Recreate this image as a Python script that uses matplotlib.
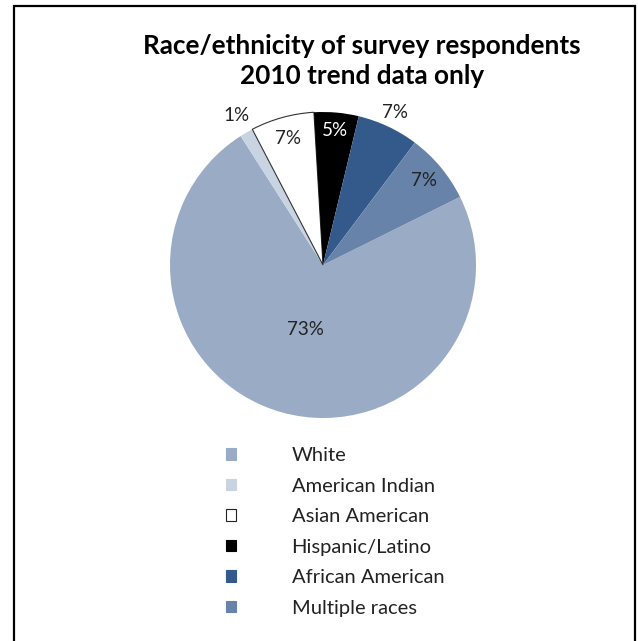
import numpy as np
import matplotlib
matplotlib.use('Agg')
import matplotlib.pyplot as plt
from matplotlib.patches import Rectangle

plt.rcParams['font.family'] = ['Lato', 'DejaVu Sans']

# data (share of respondents, %), legend order
groups = ['White', 'American Indian', 'Asian American', 'Hispanic/Latino',
          'African American', 'Multiple races']
shares = [73.3, 1.4, 6.7, 4.7, 6.5, 7.4]
pct_labels = ['73%', '1%', '7%', '5%', '7%', '7%']

colors = ['#9aabc5', '#c9d4e3', '#ffffff', '#000000', '#345a8c', '#6883aa']
label_colors = ['#222222', '#222222', '#222222', '#ffffff', '#222222', '#222222']
# radial position of each percentage label (fraction of the radius)
label_r = [0.44, 1.13, 0.86, 0.88, 1.10, 0.86]

W, H = 638, 641
fig = plt.figure(figsize=(W / 100, H / 100), dpi=100)

# chart frame
fig.patches.append(Rectangle((14 / W, -0.05), (635 - 14) / W, 1.05 - 6 / H,
                             transform=fig.transFigure, fill=False,
                             edgecolor='black', linewidth=1.6))

fig.text(362 / W, 1 - 61 / H, 'Race/ethnicity of survey respondents\n2010 trend data only',
         ha='center', va='center', fontsize=18.8, fontweight='bold',
         linespacing=1.35, color='black')

cx, cy, r = 323, 265, 153
ax = fig.add_axes([(cx - r) / W, 1 - (cy + r) / H, 2 * r / W, 2 * r / H])

# Hispanic/Latino slice starts just left of 12 o'clock, slices run clockwise
start = 93.4 - 360 * sum(shares[3:]) / sum(shares)
wedges, _ = ax.pie(shares, colors=colors, startangle=start, counterclock=False,
                   radius=1, wedgeprops=dict(linewidth=0))
# Asian American wedge has a thin outline
wedges[2].set_edgecolor('#333333')
wedges[2].set_linewidth(0.8)

for w, txt, rr, tc in zip(wedges, pct_labels, label_r, label_colors):
    mid = np.deg2rad((w.theta1 + w.theta2) / 2)
    ax.text(rr * np.cos(mid), rr * np.sin(mid), txt, ha='center', va='center',
            fontsize=13.5, color=tc)

ax.set_xlim(-1, 1)
ax.set_ylim(-1, 1)
ax.set_aspect('equal')
ax.axis('off')

handles = [Rectangle((0, 0), 1, 1, facecolor=c,
                     edgecolor='#222222' if c == '#ffffff' else c,
                     linewidth=0.8) for c in colors]
fig.legend(handles, groups, loc='upper left', bbox_to_anchor=(208 / W, 1 - 429 / H),
           frameon=False, fontsize=14.5, handlelength=0.5, handleheight=0.5,
           handletextpad=2.75, labelspacing=0.67, labelcolor='#222222')

fig.savefig('out.png', dpi=100)
